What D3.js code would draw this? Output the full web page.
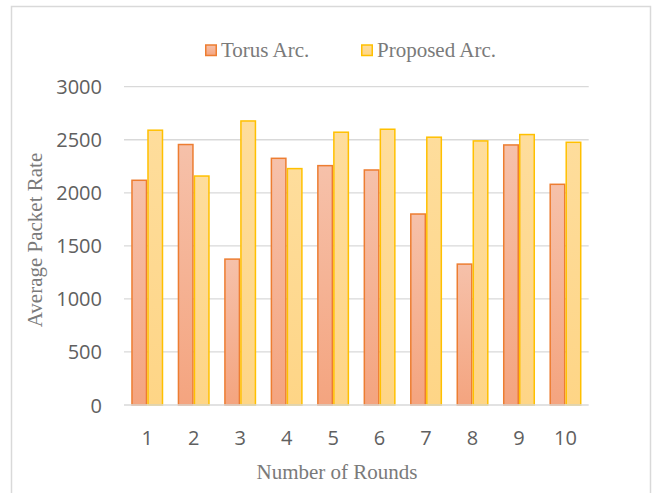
<!DOCTYPE html>
<html>
<head>
<meta charset="utf-8">
<script src="https://cdn.jsdelivr.net/npm/d3@7"></script>
<style>
  html, body { margin: 0; padding: 0; background: #fff; }
  svg { display: block; }
</style>
</head>
<body>
<svg id="chart" width="652" height="493"></svg>
<script>
const categories = ["1", "2", "3", "4", "5", "6", "7", "8", "9", "10"];
const seriesNames = ["Torus Arc.", "Proposed Arc."];
const torusValues = [2118, 2455, 1375, 2325, 2256, 2215, 1800, 1328, 2451, 2080];
const proposedValues = [2590, 2158, 2677, 2228, 2571, 2599, 2524, 2489, 2549, 2476];
const yTicks = [0, 500, 1000, 1500, 2000, 2500, 3000];
const xTitle = "Number of Rounds";
const yTitle = "Average Packet Rate";

const svg = d3.select("#chart");

// chart border
svg.append("rect")
  .attr("x", 11.5).attr("y", 6.5)
  .attr("width", 639).attr("height", 500)
  .attr("fill", "none").attr("stroke", "#d9d9d9").attr("stroke-width", 1.5);

const defs = svg.append("defs");
const g1 = defs.append("linearGradient").attr("id", "gTorus")
  .attr("x1", 0).attr("y1", 0).attr("x2", 0).attr("y2", 1);
g1.append("stop").attr("offset", "0%").attr("stop-color", "#f6c1aa");
g1.append("stop").attr("offset", "100%").attr("stop-color", "#f4a47f");
const g2 = defs.append("linearGradient").attr("id", "gProp")
  .attr("x1", 0).attr("y1", 0).attr("x2", 0).attr("y2", 1);
g2.append("stop").attr("offset", "0%").attr("stop-color", "#fedd9c");
g2.append("stop").attr("offset", "100%").attr("stop-color", "#fed586");

const plotLeft = 124, plotRight = 588.7, plotTop = 86.7, plotBottom = 405;

const y = d3.scaleLinear().domain([0, 3000]).range([plotBottom, plotTop]);
const x0 = d3.scaleBand().domain(categories).range([plotLeft, plotRight])
  .paddingInner(0.311).paddingOuter(0.1555);
const x1 = d3.scaleBand().domain(seriesNames).range([0, x0.bandwidth()]);

// gridlines
svg.append("g").selectAll("line").data(yTicks.filter(d => d > 0)).join("line")
  .attr("x1", plotLeft).attr("x2", plotRight)
  .attr("y1", d => y(d)).attr("y2", d => y(d))
  .attr("stroke", "#d9d9d9").attr("stroke-width", 1.3);

// y axis labels
const yAxis = d3.axisLeft(y).tickValues(yTicks).tickFormat(d3.format("d")).tickSize(0).tickPadding(0);
const yg = svg.append("g").attr("transform", `translate(102,0)`).call(yAxis);
yg.select(".domain").remove();
yg.selectAll("text")
  .attr("font-family", "'Open Sans', sans-serif")
  .attr("font-size", 20).attr("fill", "#606060").attr("dy", "0.35em");

// bars
const data = categories.map((c, i) => ({ cat: c, vals: [
  { s: seriesNames[0], v: torusValues[i] },
  { s: seriesNames[1], v: proposedValues[i] }
]}));
const fills = { "Torus Arc.": "url(#gTorus)", "Proposed Arc.": "url(#gProp)" };
const strokes = { "Torus Arc.": "#ed7d31", "Proposed Arc.": "#ffc000" };

svg.append("g").selectAll("g").data(data).join("g")
  .attr("transform", d => `translate(${x0(d.cat)},0)`)
  .selectAll("rect").data(d => d.vals).join("rect")
  .attr("x", d => x1(d.s) + 0.75)
  .attr("width", x1.bandwidth() - 1.5)
  .attr("y", d => y(d.v))
  .attr("height", d => y(0) - y(d.v))
  .attr("fill", d => fills[d.s])
  .attr("stroke", d => strokes[d.s]).attr("stroke-width", 1.5);

// baseline
svg.append("line").attr("x1", plotLeft).attr("x2", plotRight)
  .attr("y1", plotBottom).attr("y2", plotBottom)
  .attr("stroke", "#d9d9d9").attr("stroke-width", 1.5);

// x axis labels
const xAxis = d3.axisBottom(x0).tickSize(0).tickPadding(0);
const xg = svg.append("g").attr("transform", `translate(0,${plotBottom})`).call(xAxis);
xg.select(".domain").remove();
xg.selectAll("text")
  .attr("font-family", "'Open Sans', sans-serif")
  .attr("font-size", 20).attr("fill", "#606060").attr("dy", "0").attr("y", 40);

// axis titles
svg.append("text").attr("x", 337).attr("y", 479)
  .attr("text-anchor", "middle")
  .attr("font-family", "'Liberation Serif', serif").attr("font-size", 21)
  .attr("fill", "#7a7a7a").text(xTitle);
svg.append("text").attr("transform", `translate(42,240) rotate(-90)`)
  .attr("text-anchor", "middle")
  .attr("font-family", "'Liberation Serif', serif").attr("font-size", 21)
  .attr("fill", "#7a7a7a").text(yTitle);

// legend
const legendItems = [
  { name: seriesNames[0], x: 205, fill: "url(#gTorus)", stroke: "#ed7d31" },
  { name: seriesNames[1], x: 361, fill: "url(#gProp)", stroke: "#ffc000" }
];
const lg = svg.append("g").selectAll("g").data(legendItems).join("g")
  .attr("transform", d => `translate(${d.x},0)`);
lg.append("rect").attr("x", 0.75).attr("y", 45).attr("width", 10.5).attr("height", 10.5)
  .attr("fill", d => d.fill).attr("stroke", d => d.stroke).attr("stroke-width", 1.5);
lg.append("text").attr("x", 16).attr("y", 57)
  .attr("font-family", "'Liberation Serif', serif").attr("font-size", 21)
  .attr("fill", "#7a7a7a").text(d => d.name);
</script>
</body>
</html>
